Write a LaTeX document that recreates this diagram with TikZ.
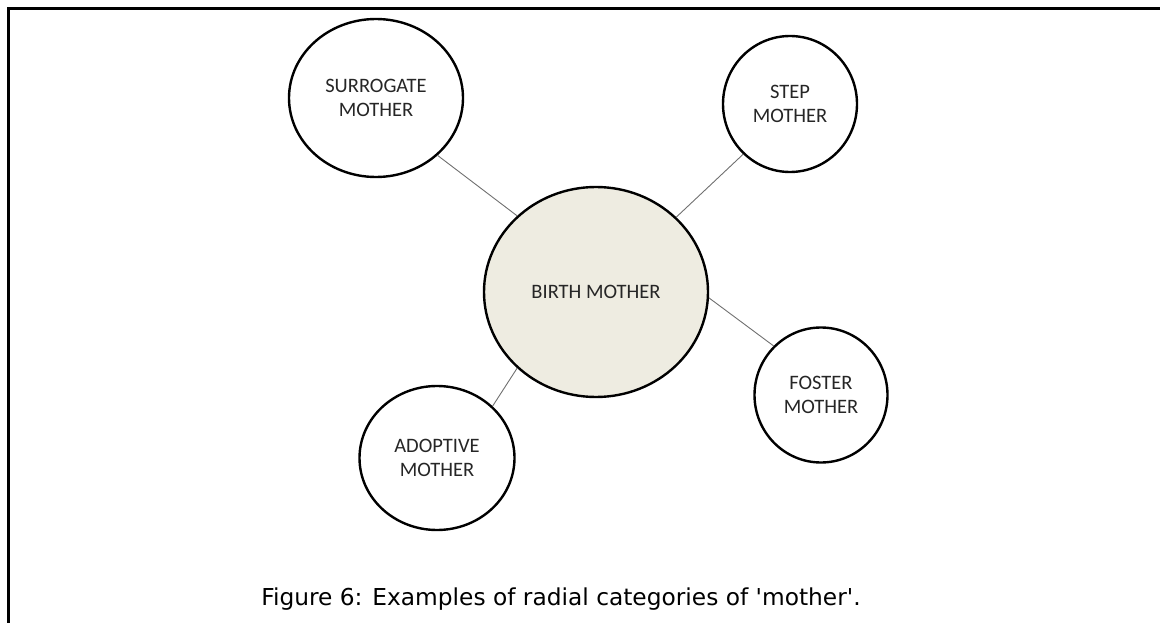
\documentclass[tikz,border=0pt]{standalone}
\usepackage{fontspec}
\setmainfont{Carlito}
\newfontfamily\captionfont[Ligatures=TeXOff]{DejaVu Sans}
\usetikzlibrary{shapes.geometric}
\definecolor{birthfill}{RGB}{238,236,225}
\definecolor{linkgray}{RGB}{112,112,112}

\begin{document}
\begin{tikzpicture}[x=1pt,y=-1pt,
  cat/.style={ellipse, draw=black, line width=2.4pt, inner sep=0pt, align=center,
    font=\fontsize{20.5}{24}\selectfont, text=black!85},
  link/.style={draw=linkgray, line width=0.9pt}]
  \useasboundingbox (0,0) rectangle (1160,623);
  % frame round the figure
  \draw[line width=3pt] (8,623) -- (8,9) -- (1160,9);
  % categories
  \node[cat, fill=birthfill, minimum width=224pt, minimum height=210pt] (birth) at (596,292) {BIRTH MOTHER};
  \node[cat, minimum width=174pt, minimum height=158pt] (surrogate) at (376,98) {SURROGATE\\MOTHER};
  \node[cat, minimum width=134pt, minimum height=136pt] (step) at (790,104) {STEP\\MOTHER};
  \node[cat, minimum width=133pt, minimum height=135pt] (foster) at (821,395) {FOSTER\\MOTHER};
  \node[cat, minimum width=155pt, minimum height=144pt] (adoptive) at (437,458) {ADOPTIVE\\MOTHER};
  % links
  \draw[link] (surrogate.-43) -- (birth.136);
  \draw[link] (step.227) -- (birth.43);
  \draw[link] (birth.-3) -- (foster.134);
  \draw[link] (adoptive.43) -- (birth.224);
  % caption
  \node[anchor=base, font=\captionfont\fontsize{23.3}{28}\selectfont] (caption) at (561,605)
    {Figure 6: Examples of radial categories of 'mother'.};
\end{tikzpicture}
\end{document}
